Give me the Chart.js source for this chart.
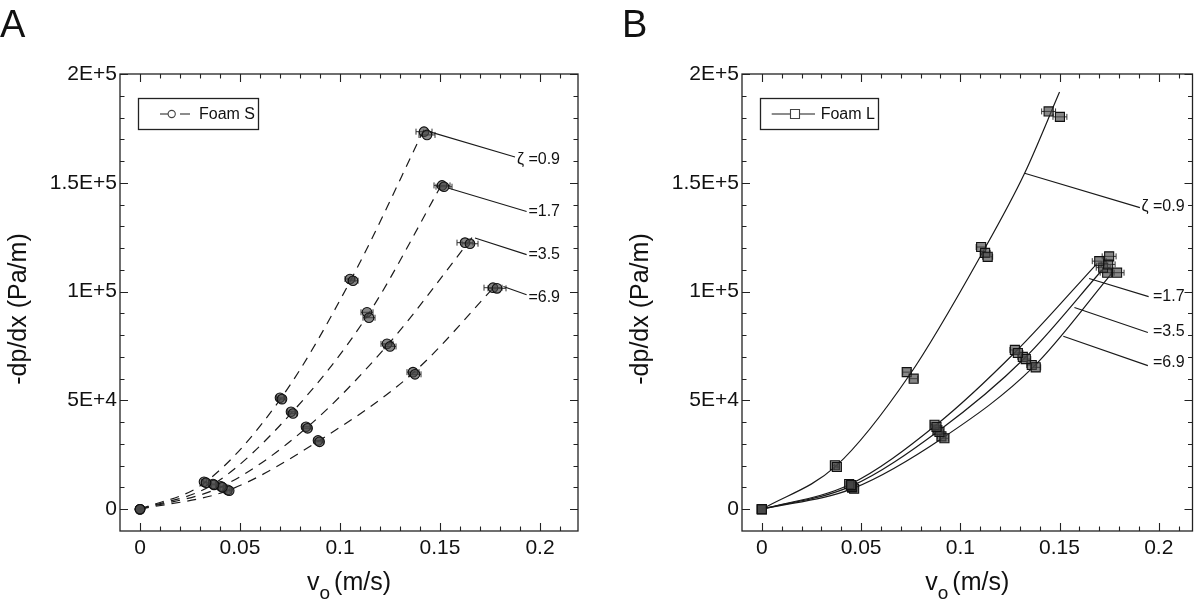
<!DOCTYPE html>
<html>
<head>
<meta charset="utf-8">
<script src="https://cdn.jsdelivr.net/npm/chart.js@4.4.1/dist/chart.umd.min.js"></script>
<style>
html, body { margin: 0; padding: 0; background: #fff; }
#wrap { position: relative; width: 1200px; height: 607px; overflow: hidden; }
canvas { position: absolute; top: 0; }
#cA { left: 0; width: 600px; height: 607px; }
#cB { left: 622px; width: 578px; height: 607px; }
</style>
</head>
<body>
<div id="wrap">
  <canvas id="cA" width="600" height="607"></canvas>
  <canvas id="cB" width="578" height="607"></canvas>
</div>
<script>
// Eixos
const xTicks = [0, 0.05, 0.1, 0.15, 0.2];
const xTickLabels = ['0', '0.05', '0.1', '0.15', '0.2'];
const yTicks = [0, 50000, 100000, 150000, 200000];
const yTickLabels = ['0', '5E+4', '1E+5', '1.5E+5', '2E+5'];
const zetaLabels = ['ζ =0.9', '=1.7', '=3.5', '=6.9'];

// ---- Foam S (painel A): medidas (v, -dp/dx, erro em v) ----
const sX09 = [0, 0.0320, 0.0330, 0.0700, 0.0710, 0.1050, 0.1065, 0.1420, 0.1435];
const sY09 = [0, 12600, 12200, 51200, 50600, 105800, 105000, 173500, 172000];
const sE09 = [0, 0.0012, 0.0012, 0.0018, 0.0018, 0.0025, 0.0025, 0.0040, 0.0040];
const sX17 = [0, 0.0365, 0.0370, 0.0755, 0.0765, 0.1135, 0.1145, 0.1510, 0.1520];
const sY17 = [0, 11600, 11200, 44800, 44000, 90500, 88000, 148800, 148200];
const sE17 = [0, 0.0012, 0.0012, 0.0018, 0.0018, 0.0030, 0.0030, 0.0040, 0.0040];
const sX35 = [0, 0.0405, 0.0412, 0.0830, 0.0838, 0.1235, 0.1250, 0.1625, 0.1650];
const sY35 = [0, 10500, 10100, 37900, 37200, 76000, 74800, 122500, 122000];
const sE35 = [0, 0.0012, 0.0012, 0.0020, 0.0020, 0.0030, 0.0030, 0.0040, 0.0040];
const sX69 = [0, 0.0438, 0.0446, 0.0890, 0.0898, 0.1365, 0.1375, 0.1765, 0.1785];
const sY69 = [0, 8900, 8500, 31600, 31000, 63000, 62000, 101800, 101500];
const sE69 = [0, 0.0012, 0.0012, 0.0020, 0.0020, 0.0030, 0.0030, 0.0045, 0.0045];

// Foam S: curvas ajustadas (tracejadas)
const fsX09 = [0, 0.0325, 0.0705, 0.1055, 0.1433];
const fsY09 = [0, 12300, 51000, 105500, 177000];
const fsX17 = [0, 0.0367, 0.0760, 0.1140, 0.1517];
const fsY17 = [0, 11500, 44500, 89400, 150600];
const fsX35 = [0, 0.0408, 0.0835, 0.1240, 0.1670];
const fsY35 = [0, 10400, 37600, 75700, 126000];
const fsX69 = [0, 0.0442, 0.0895, 0.1370, 0.1780];
const fsY69 = [0, 8700, 31500, 63000, 103000];

// ---- Foam L (painel B): medidas ----
const lX09 = [0, 0.0368, 0.0378, 0.0730, 0.0765, 0.1105, 0.1125, 0.1138, 0.1445, 0.1502];
const lY09 = [0, 20200, 19400, 63000, 60000, 120500, 117800, 116000, 182800, 180300];
const lE09 = [0, 0.0012, 0.0012, 0.0020, 0.0020, 0.0025, 0.0025, 0.0025, 0.0035, 0.0035];
const lX17 = [0, 0.0440, 0.0450, 0.0870, 0.0880, 0.1275, 0.1290, 0.1700, 0.1750];
const lY17 = [0, 11600, 11100, 38800, 37800, 73200, 71800, 114000, 116200];
const lE17 = [0, 0.0012, 0.0012, 0.0020, 0.0020, 0.0025, 0.0025, 0.0035, 0.0035];
const lX35 = [0, 0.0448, 0.0455, 0.0885, 0.0895, 0.1315, 0.1330, 0.1720, 0.1745];
const lY35 = [0, 10800, 10300, 36300, 35500, 70000, 69000, 111000, 112500];
const lE35 = [0, 0.0012, 0.0012, 0.0020, 0.0020, 0.0025, 0.0025, 0.0035, 0.0035];
const lX69 = [0, 0.0455, 0.0465, 0.0905, 0.0920, 0.1360, 0.1380, 0.1740, 0.1790];
const lY69 = [0, 9900, 9400, 33500, 32600, 66300, 65200, 108700, 108700];
const lE69 = [0, 0.0012, 0.0012, 0.0020, 0.0020, 0.0025, 0.0025, 0.0035, 0.0035];

// Foam L: curvas ajustadas (contínuas)
const flX09 = [0, 0.0373, 0.0745, 0.1115, 0.1324, 0.1500];
const flY09 = [0, 19800, 61800, 118500, 154400, 191700];
const flX17 = [0, 0.0445, 0.0875, 0.1280, 0.1690];
const flY17 = [0, 11500, 38500, 72500, 113000];
const flX35 = [0, 0.0450, 0.0890, 0.1325, 0.1720];
const flY35 = [0, 10600, 36000, 69500, 110500];
const flX69 = [0, 0.0460, 0.0915, 0.1370, 0.1760];
const flY69 = [0, 9600, 33000, 65500, 108000];

const fonte = '"Liberation Sans", Arial, Helvetica, sans-serif';
const corTraco = '#1a1a1a';

function pontos(xs, ys) { return xs.map((x, i) => ({ x: x, y: ys[i] })); }

// moldura fechada com marcas para dentro, títulos dos eixos e letra do painel
const pluginMoldura = {
    id: 'moldura',
    afterDraw(chart, args, o) {
        const { ctx, chartArea: a } = chart;
        const sx = chart.scales.x, sy = chart.scales.y;
        ctx.save();
        ctx.strokeStyle = '#222';
        ctx.lineWidth = 1.3;
        ctx.strokeRect(a.left, a.top, a.right - a.left, a.bottom - a.top);
        ctx.lineWidth = 1.1;
        ctx.beginPath();
        for (let i = 0; i <= 22; i++) {
            const v = i / 100;
            if (v > sx.max) break;
            const px = Math.round(sx.getPixelForValue(v)) + 0.5;
            const len = (i % 5 === 0) ? 8 : 4.5;
            ctx.moveTo(px, a.bottom); ctx.lineTo(px, a.bottom - len);
            ctx.moveTo(px, a.top); ctx.lineTo(px, a.top + len);
        }
        for (let j = 0; j <= 20; j++) {
            const py = Math.round(sy.getPixelForValue(j * 10000)) + 0.5;
            const len = (j % 5 === 0) ? 8 : 4.5;
            ctx.moveTo(a.left, py); ctx.lineTo(a.left + len, py);
            ctx.moveTo(a.right, py); ctx.lineTo(a.right - len, py);
        }
        ctx.stroke();

        ctx.fillStyle = '#111';
        // letra do painel
        ctx.font = '38px ' + fonte;
        ctx.textAlign = 'left';
        ctx.textBaseline = 'alphabetic';
        ctx.fillText(o.letra, o.letraX, 37);

        // título y
        ctx.save();
        ctx.translate(19, 309);
        ctx.rotate(-Math.PI / 2);
        ctx.font = '25px ' + fonte;
        ctx.textAlign = 'center';
        ctx.textBaseline = 'middle';
        ctx.fillText('-dp/dx (Pa/m)', 0, 0);
        ctx.restore();

        // título x: v com índice o
        ctx.font = '25px ' + fonte;
        const wv = ctx.measureText('v').width;
        const wu = ctx.measureText('(m/s)').width;
        ctx.font = '19px ' + fonte;
        const wo = ctx.measureText('o').width;
        const total = wv + wo + 4 + wu;
        let x0 = (a.left + a.right) / 2 - total / 2;
        ctx.textAlign = 'left';
        ctx.font = '25px ' + fonte;
        ctx.fillText('v', x0, 590);
        ctx.font = '19px ' + fonte;
        ctx.fillText('o', x0 + wv, 599);
        ctx.font = '25px ' + fonte;
        ctx.fillText('(m/s)', x0 + wv + wo + 4, 590);
        ctx.restore();
    }
};

// barras de erro horizontais
const pluginErro = {
    id: 'erroX',
    beforeDatasetsDraw(chart) {
        const { ctx } = chart;
        const sx = chart.scales.x, sy = chart.scales.y;
        ctx.save();
        ctx.strokeStyle = '#333';
        ctx.lineWidth = 1;
        chart.data.datasets.forEach(ds => {
            if (!ds.erroX) return;
            ds.data.forEach((p, i) => {
                const e = ds.erroX[i];
                if (!e) return;
                const y = sy.getPixelForValue(p.y);
                const x1 = sx.getPixelForValue(p.x - e), x2 = sx.getPixelForValue(p.x + e);
                ctx.beginPath();
                ctx.moveTo(x1, y); ctx.lineTo(x2, y);
                ctx.moveTo(x1, y - 3); ctx.lineTo(x1, y + 3);
                ctx.moveTo(x2, y - 3); ctx.lineTo(x2, y + 3);
                ctx.stroke();
            });
        });
        ctx.restore();
    }
};

// legenda em caixa e rótulos de zeta com linhas de chamada
const pluginNotas = {
    id: 'notas',
    afterDatasetsDraw(chart, args, o) {
        const { ctx } = chart;
        const sx = chart.scales.x, sy = chart.scales.y;
        ctx.save();
        ctx.strokeStyle = corTraco;
        ctx.fillStyle = '#111';
        ctx.lineWidth = 1.1;
        // chamadas
        ctx.beginPath();
        o.chamadas.forEach(c => {
            ctx.moveTo(sx.getPixelForValue(c[0]), sy.getPixelForValue(c[1]));
            ctx.lineTo(sx.getPixelForValue(c[2]), sy.getPixelForValue(c[3]));
        });
        ctx.stroke();
        ctx.font = '16px ' + fonte;
        ctx.textAlign = 'right';
        ctx.textBaseline = 'middle';
        zetaLabels.forEach((t, i) => {
            ctx.fillText(t, sx.getPixelForValue(o.rotuloX), sy.getPixelForValue(o.rotuloY[i]));
        });

        // caixa da legenda
        const L = o.legenda;
        ctx.lineWidth = 1.3;
        ctx.strokeStyle = '#222';
        ctx.strokeRect(138.5, 98.5, L.largura, 31);
        ctx.lineWidth = 1.1;
        ctx.strokeStyle = corTraco;
        const ym = 114;
        ctx.beginPath();
        L.segmentos.forEach(s => { ctx.moveTo(s[0], ym); ctx.lineTo(s[1], ym); });
        ctx.stroke();
        ctx.strokeStyle = '#444';
        ctx.beginPath();
        if (L.marcador === 'circle') {
            ctx.arc(L.mx, ym, 3.6, 0, Math.PI * 2);
        } else {
            ctx.rect(L.mx - 4.5, ym - 4.5, 9, 9);
        }
        ctx.fillStyle = '#fff';
        ctx.fill();
        ctx.stroke();
        ctx.fillStyle = '#111';
        ctx.textAlign = 'left';
        ctx.fillText(L.texto, L.tx, ym + 1);
        ctx.restore();
    }
};

function montarGrafico(id, cfg) {
    const datasets = [];
    cfg.medidas.forEach(m => {
        datasets.push({
            type: 'scatter',
            data: pontos(m[0], m[1]),
            erroX: m[2],
            showLine: false,
            pointStyle: cfg.marcador,
            pointRadius: cfg.raio,
            borderWidth: 1.1,
            borderColor: '#111',
            backgroundColor: 'rgba(70,70,70,0.65)',
            order: 1
        });
    });
    cfg.ajustes.forEach(f => {
        datasets.push({
            type: 'scatter',
            data: pontos(f[0], f[1]),
            showLine: true,
            cubicInterpolationMode: 'monotone',
            pointRadius: 0,
            borderColor: corTraco,
            borderWidth: 1.2,
            borderDash: cfg.tracejado,
            fill: false,
            order: 2
        });
    });

    return new Chart(document.getElementById(id).getContext('2d'), {
        type: 'scatter',
        data: { datasets: datasets },
        options: {
            responsive: false,
            animation: false,
            events: [],
            layout: { padding: { top: 74, right: cfg.padDir, bottom: 0, left: 0 } },
            plugins: {
                legend: { display: false },
                tooltip: { enabled: false },
                moldura: { letra: cfg.letra, letraX: cfg.letraX },
                notas: cfg.notas
            },
            scales: {
                x: {
                    type: 'linear', min: -0.01, max: cfg.xMax,
                    afterBuildTicks: s => { s.ticks = xTicks.map(v => ({ value: v })); },
                    afterFit: s => { s.height = 76; },
                    grid: { display: false, drawTicks: false },
                    border: { display: false },
                    ticks: {
                        padding: 5, color: '#111', maxRotation: 0,
                        font: { family: fonte, size: 21 },
                        callback: (v, i) => xTickLabels[i]
                    }
                },
                y: {
                    type: 'linear', min: -10000, max: 200000,
                    afterBuildTicks: s => { s.ticks = yTicks.map(v => ({ value: v })); },
                    afterFit: s => { s.width = 120; },
                    grid: { display: false, drawTicks: false },
                    border: { display: false },
                    ticks: {
                        padding: 3, color: '#111',
                        font: { family: fonte, size: 21 },
                        callback: (v, i) => yTickLabels[i]
                    }
                }
            }
        },
        plugins: [pluginErro, pluginNotas, pluginMoldura]
    });
}

montarGrafico('cA', {
    letra: 'A', letraX: 0, xMax: 0.219, padDir: 22,
    marcador: 'circle', raio: 4.8, tracejado: [9, 7],
    medidas: [[sX09, sY09, sE09], [sX17, sY17, sE17], [sX35, sY35, sE35], [sX69, sY69, sE69]],
    ajustes: [[fsX09, fsY09], [fsX17, fsY17], [fsX35, fsY35], [fsX69, fsY69]],
    notas: {
        chamadas: [
            [0.145, 173400, 0.1875, 161900],
            [0.154, 147600, 0.1933, 136800],
            [0.1675, 124600, 0.1933, 117000],
            [0.1817, 102400, 0.1933, 98600]
        ],
        rotuloX: 0.21,
        rotuloY: [160500, 136800, 117000, 97200],
        legenda: { largura: 120, segmentos: [[160, 168], [180, 190]], marcador: 'circle', mx: 171.7, texto: 'Foam S', tx: 199 }
    }
});

montarGrafico('cB', {
    letra: 'B', letraX: 0, xMax: 0.217, padDir: 4,
    marcador: 'rect', raio: 6.4, tracejado: [],
    medidas: [[lX09, lY09, lE09], [lX17, lY17, lE17], [lX35, lY35, lE35], [lX69, lY69, lE69]],
    ajustes: [[flX09, flY09], [flX17, flY17], [flX35, flY35], [flX69, flY69]],
    notas: {
        chamadas: [
            [0.1324, 154400, 0.1905, 138600],
            [0.1649, 106000, 0.1949, 97700],
            [0.1575, 92700, 0.1945, 81200],
            [0.1519, 79500, 0.1945, 66000]
        ],
        rotuloX: 0.213,
        rotuloY: [139000, 97700, 81800, 67400],
        legenda: { largura: 118, segmentos: [[149.7, 193]], marcador: 'rect', mx: 173, texto: 'Foam L', tx: 198.7 }
    }
});
</script>
</body>
</html>
